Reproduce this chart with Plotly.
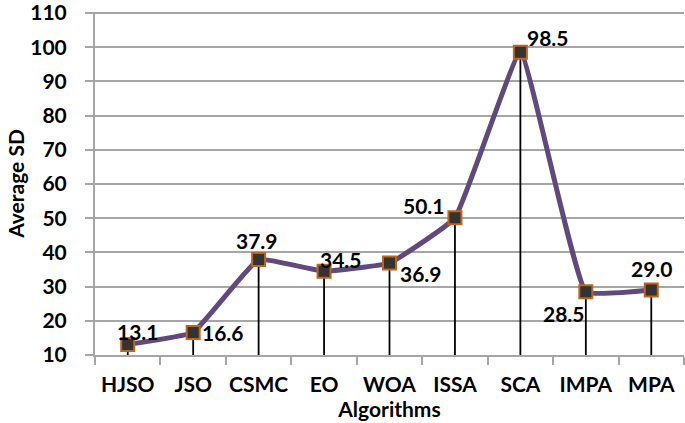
import plotly.graph_objects as go

algorithms = ["HJSO", "JSO", "CSMC", "EO", "WOA", "ISSA", "SCA", "IMPA", "MPA"]
avg_sd = [13.1, 16.6, 37.9, 34.5, 36.9, 50.1, 98.5, 28.5, 29.0]
label_text = ["13.1", "16.6", "37.9", "34.5", "36.9", "50.1", "98.5", "28.5", "29.0"]
y_ticks = [10, 20, 30, 40, 50, 60, 70, 80, 90, 100, 110]

Y_BASE = 10
label_shift = [(10, 13), (30, 0), (-2, 19), (17, 12), (31, -10), (-31, 12), (28, 15), (-22, -22), (1, 22)]

FONT = "Lato, 'Open Sans', sans-serif"
FS = 21

fig = go.Figure()
fig.add_trace(go.Scatter(
    x=algorithms, y=avg_sd, mode="lines+markers",
    line=dict(color="#604A7B", width=5, shape="spline", smoothing=0.3),
    marker=dict(symbol="square", size=13, color="#333333",
                line=dict(color="#C0651A", width=2)),
    error_y=dict(type="data", symmetric=False,
                 array=[0] * len(avg_sd),
                 arrayminus=[v - Y_BASE for v in avg_sd],
                 color="black", thickness=1.8, width=0),
    showlegend=False, hoverinfo="skip",
))

for cat, v, t, (dx, dy) in zip(algorithms, avg_sd, label_text, label_shift):
    fig.add_annotation(x=cat, y=v, text=t, showarrow=False,
                       xshift=dx, yshift=dy,
                       font=dict(family=FONT, size=FS, color="black", weight="bold"))

fig.update_layout(
    width=685, height=423,
    margin=dict(l=95, r=1, t=12, b=68, autoexpand=False),
    paper_bgcolor="white", plot_bgcolor="white",
    font=dict(family=FONT, size=FS, color="black", weight="bold"),
    xaxis=dict(
        type="category", range=[-0.5, 8.5], tickangle=0, automargin=False,
        showgrid=False, showline=True, linecolor="#A6A6A6", linewidth=2,
        ticks="outside", tickson="boundaries", ticklen=8, tickcolor="#A6A6A6", tickwidth=2,
        tickfont=dict(family=FONT, size=FS, weight="bold"),
        ticklabeloverflow="allow", ticklabelstandoff=10,
        title=dict(text="Algorithms", standoff=0,
                   font=dict(family=FONT, size=FS, weight="bold")),
    ),
    yaxis=dict(
        range=[10, 110.3], tickvals=y_ticks, automargin=False,
        showgrid=True, gridcolor="#A6A6A6", gridwidth=2,
        showline=True, linecolor="#A6A6A6", linewidth=2,
        ticks="outside", ticklen=8, tickcolor="#A6A6A6", tickwidth=2,
        zeroline=False, ticklabeloverflow="allow", ticklabelstandoff=14,
        tickfont=dict(family=FONT, size=FS, weight="bold"),
        title=dict(text="Average SD", standoff=0,
                   font=dict(family=FONT, size=FS, weight="bold")),
    ),
)

fig.write_html("out.html", config={"displayModeBar": False},
               post_script="document.body.style.margin='0';")
